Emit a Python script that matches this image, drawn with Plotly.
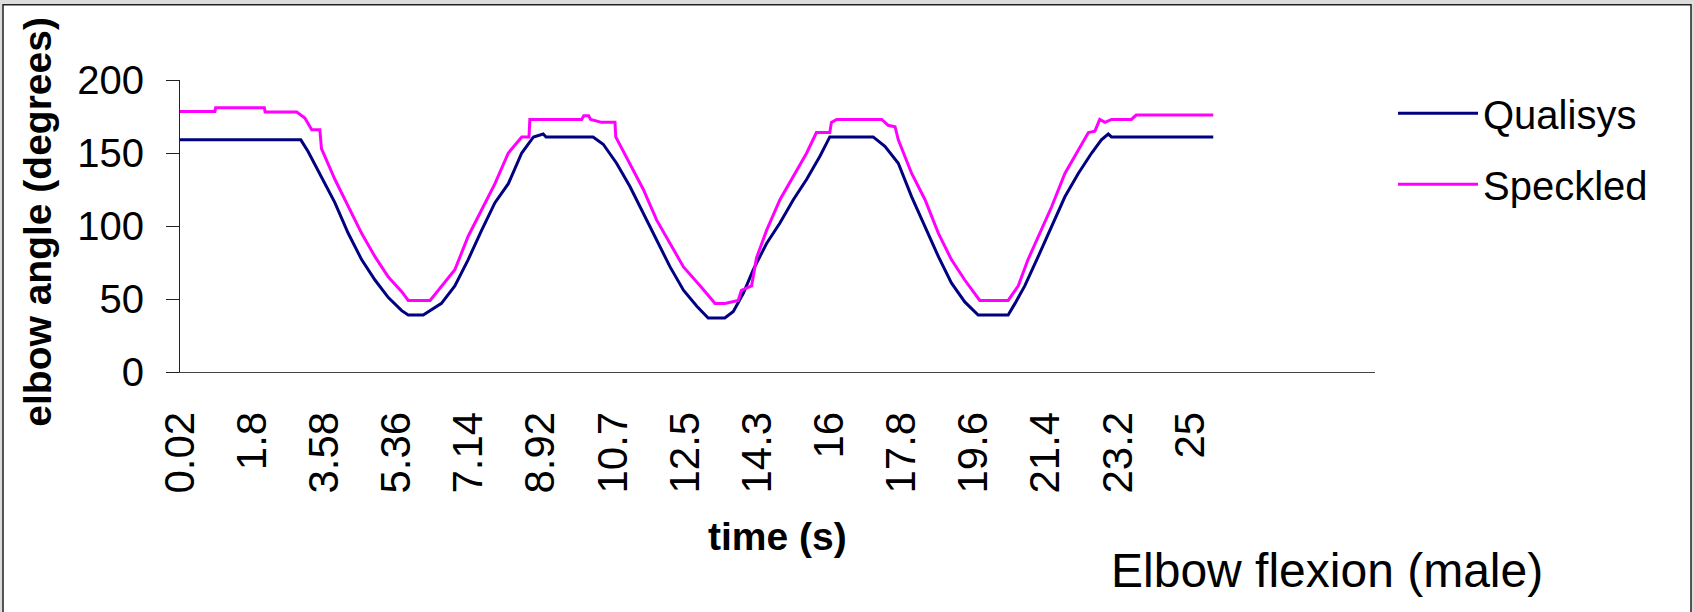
import plotly.graph_objects as go

# ---- data ----
qualisys_t = [0.02, 3.00, 3.18, 3.51, 3.84, 4.17, 4.50, 4.83, 5.16, 5.49, 5.65, 6.02, 6.23, 6.47,
              6.80, 7.13, 7.46, 7.79, 8.12, 8.45, 8.74, 8.98, 9.05, 10.21, 10.46, 10.79, 11.12,
              11.45, 11.78, 12.11, 12.44, 12.77, 13.05, 13.46, 13.67, 13.92, 14.16, 14.49, 14.82,
              15.15, 15.48, 15.81, 16.05, 17.12, 17.41, 17.74, 18.07, 18.40, 18.73, 19.05, 19.38,
              19.71, 20.45, 20.62, 20.86, 21.19, 21.52, 21.85, 22.18, 22.51, 22.75, 22.92, 23.00,
              25.51]
qualisys_v = [159, 159, 151, 134, 116, 95, 77, 63, 51, 42, 39, 39, 43, 47,
              59, 77, 97, 116, 129, 150, 161, 163, 161, 161, 156, 143, 127,
              109, 91, 72, 56, 45, 37, 37, 41.5, 54, 70, 88, 102,
              118, 132, 148, 161, 161, 154.5, 143, 120, 100, 79, 61, 48,
              39, 39, 47, 59, 79, 100, 120, 136, 150, 159, 163, 161,
              161]

speckled_t = [0.02, 0.88, 0.90, 2.10, 2.12, 2.90, 3.10, 3.27, 3.47, 3.51, 3.84, 4.17, 4.50, 4.83,
              5.16, 5.49, 5.65, 6.19, 6.47, 6.80, 7.13, 7.46, 7.79, 8.12, 8.45, 8.63, 8.65, 9.93,
              9.98, 10.10, 10.15, 10.42, 10.75, 10.77, 11.12, 11.45, 11.78, 12.11, 12.44, 12.85,
              13.22, 13.46, 13.79, 13.87, 14.12, 14.24, 14.49, 14.82, 15.15, 15.48, 15.72, 16.05,
              16.09, 16.22, 17.33, 17.49, 17.66, 17.74, 18.07, 18.40, 18.73, 19.05, 19.38, 19.75,
              20.45, 20.70, 20.94, 21.19, 21.52, 21.85, 22.18, 22.43, 22.59, 22.71, 22.84, 23.00,
              23.49, 23.61, 25.51]
speckled_v = [178.5, 178.5, 181, 181, 178, 178, 174, 166, 166, 153, 132, 113, 95, 79,
              65, 55, 49, 49, 59, 70, 93, 111, 129, 150, 161, 161, 173, 173,
              175.5, 175.5, 173, 171, 171, 161, 143, 125, 104, 88, 72, 59,
              47, 47, 49, 56, 59, 78, 97, 118, 134, 150, 164, 164,
              171, 173, 173, 169, 168, 159, 136, 118, 95, 77, 63, 49,
              49, 59, 77, 93, 113, 136, 152, 164, 165, 173, 171, 173,
              173, 176, 176]

tick_vals = [0.02, 1.80, 3.58, 5.36, 7.14, 8.92, 10.70, 12.48, 14.26, 16.04, 17.82, 19.60,
             21.38, 23.16, 24.94]
tick_text = ["0.02", "1.8", "3.58", "5.36", "7.14", "8.92", "10.7", "12.5", "14.3", "16",
             "17.8", "19.6", "21.4", "23.2", "25"]

FONT = "Liberation Sans, Arial, sans-serif"

# plot-area geometry in pixels (used only to place texts / frame)
L, R, T, B = 180, 1375, 80.3, 372.3
W, H = R - L, B - T


def px(xp):
    return (xp - L) / W


def py(yp):
    return (B - yp) / H


fig = go.Figure()
fig.add_trace(go.Scatter(x=qualisys_t, y=qualisys_v, mode="lines", name="Qualisys",
                         legendgroup="q", line=dict(color="#000080", width=3)))
fig.add_trace(go.Scatter(x=speckled_t, y=speckled_v, mode="lines", name="Speckled",
                         legendgroup="s", line=dict(color="#FF00FF", width=3)))

fig.update_layout(
    width=1694, height=612,
    margin=dict(l=L, r=1694 - R, t=T, b=612 - B, autoexpand=False),
    paper_bgcolor="#dcdcdc",
    plot_bgcolor="rgba(0,0,0,0)",
    font=dict(family=FONT, color="black"),
    showlegend=True,
    legend=dict(x=px(1393), y=py(81), xanchor="left", yanchor="top",
                font=dict(size=40, family=FONT), bgcolor="rgba(0,0,0,0)",
                itemwidth=80, tracegroupgap=16),
    xaxis=dict(range=[0.02, 29.5], tickvals=tick_vals, ticktext=tick_text, tickangle=-90,
               tickfont=dict(size=42), showgrid=False, zeroline=False, showline=True,
               linecolor="#444444", linewidth=1, ticks="", ticklabelstandoff=22),
    yaxis=dict(range=[0, 200], tickvals=[0, 50, 100, 150, 200], tickfont=dict(size=40),
               showgrid=False, zeroline=False, showline=True, linecolor="#222222",
               linewidth=1, ticks="outside", ticklen=13, tickcolor="#222222",
               ticklabelstandoff=14),
    shapes=[dict(type="rect", xref="paper", yref="paper", x0=px(3), x1=px(1691),
                 y0=py(640), y1=py(5), fillcolor="white", line=dict(color="#222222", width=1.5),
                 layer="below")],
    annotations=[
        dict(text="<b>elbow angle (degrees)</b>", xref="paper", yref="paper", x=px(38), y=py(222),
             textangle=-90, showarrow=False, font=dict(size=39, family=FONT),
             xanchor="center", yanchor="middle"),
        dict(text="<b>time (s)</b>", xref="paper", yref="paper", x=px(778), y=py(537),
             showarrow=False, font=dict(size=39, family=FONT), xanchor="center", yanchor="middle"),
        dict(text="Elbow flexion (male)", xref="paper", yref="paper", x=px(1326.5), y=py(571),
             showarrow=False, font=dict(size=48, family=FONT), xanchor="center", yanchor="middle"),
    ],
)

fig.write_html("out.html", post_script="document.body.style.margin='0';",
               config={"displayModeBar": False})
